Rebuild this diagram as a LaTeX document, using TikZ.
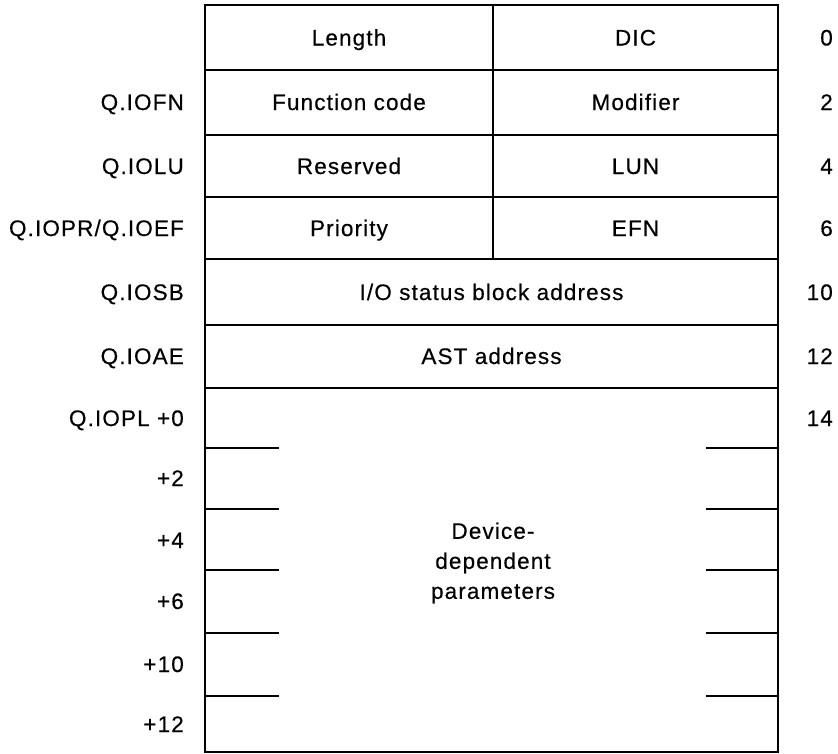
\documentclass[tikz,border=0pt]{standalone}
\usepackage{fontspec}
\setmainfont{Liberation Sans}[LetterSpace=5.0, FakeBold=0.4]
\begin{document}
\begin{tikzpicture}[x=1pt,y=-1pt,
  txt/.style={font=\fontsize{22.5}{30}\selectfont, inner sep=0pt, text height=16pt, text depth=0pt},
  lbl/.style={txt, anchor=east},
  num/.style={txt, anchor=east},
  frame/.style={line width=2.2pt, line cap=rect},
  tick/.style={line width=2.2pt}]
\useasboundingbox (0,0) rectangle (838,753);
% outer frame and rows
\coordinate (TL) at (205,5);
\coordinate (BR) at (778,752);
\draw[frame] (TL) rectangle (BR);
\foreach \yy in {70,135,197,259,325,388} \draw[frame] (205,\yy) -- (778,\yy);
\draw[frame] (493,5) -- (493,259);
% ticks
\foreach \yy in {448,509,570,633,696} {
  \draw[tick] (205,\yy) -- (279,\yy);
  \draw[tick] (706,\yy) -- (778,\yy);
}
% cell texts
\node[txt] (len) at (349,37.5) {Length};
\node[txt] (dic) at (635.5,37.5) {DIC};
\node[txt] (fc) at (349,102) {Function code};
\node[txt] (mod) at (635.5,102) {Modifier};
\node[txt] (res) at (349,166) {Reserved};
\node[txt] (lun) at (635.5,166) {LUN};
\node[txt] (pri) at (349,228) {Priority};
\node[txt] (efn) at (635.5,228) {EFN};
\node[txt] (iosb) at (491.5,292) {I/O status block address};
\node[txt] (ast) at (491.5,356) {AST address};
\node[font=\fontsize{22.5}{30}\selectfont, inner sep=0pt, align=center] (ddp) at (493,563) {Device-\\dependent\\parameters};
% left labels
\node[lbl] (l2) at (184,102) {Q.IOFN};
\node[lbl] (l4) at (184,166) {Q.IOLU};
\node[lbl] (l6) at (184,228) {Q.IOPR/Q.IOEF};
\node[lbl] (l10) at (184,292) {Q.IOSB};
\node[lbl] (l12) at (184,356) {Q.IOAE};
\node[lbl] (l14) at (184,418) {Q.IOPL +0};
\node[lbl] (p2) at (184,478) {+2};
\node[lbl] (p4) at (184,540) {+4};
\node[lbl] (p6) at (184,601) {+6};
\node[lbl] (p10) at (184,664) {+10};
\node[lbl] (p12) at (184,724) {+12};
% right offsets
\node[num] (r0) at (833,37.5) {0};
\node[num] (r2) at (833,102) {2};
\node[num] (r4) at (833,166) {4};
\node[num] (r6) at (833,228) {6};
\node[num] (r10) at (833,292) {10};
\node[num] (r12) at (833,356) {12};
\node[num] (r14) at (833,418) {14};
\end{tikzpicture}
\end{document}
